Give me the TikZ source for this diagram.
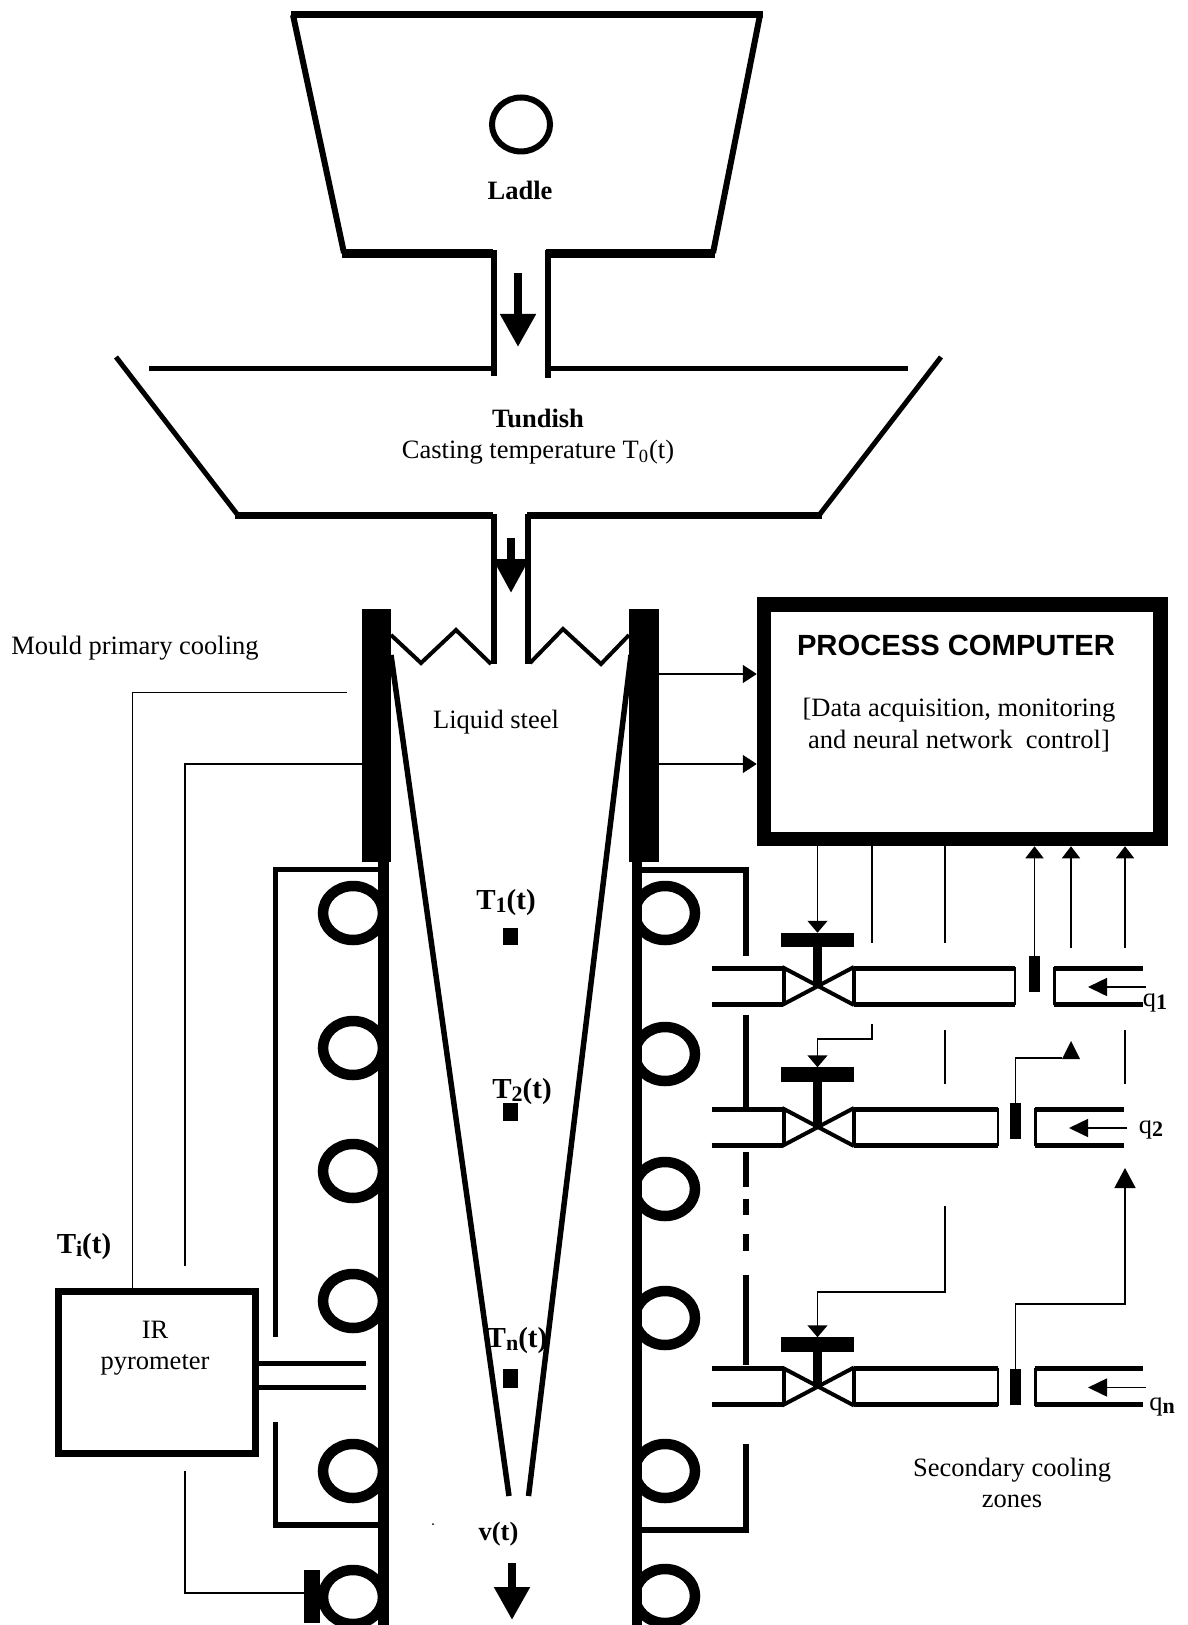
\documentclass[tikz,border=0pt]{standalone}
\usepackage{fontspec}
\setmainfont{Liberation Serif}
\newfontfamily\headfont{Liberation Sans}
\usetikzlibrary{arrows.meta}
\newcommand{\sublab}[1]{{\fontsize{11}{11}\selectfont\bfseries\raisebox{-1.5pt}{#1}}}
\tikzset{
  lab/.style={inner sep=0pt,font=\fontsize{13.25}{15.8}\selectfont,align=center},
  blab/.style={lab,font=\fontsize{13.25}{15.8}\selectfont\bfseries},
  tlab/.style={lab,font=\fontsize{14.5}{15.8}\selectfont\bfseries},
  wall/.style={line width=5pt},
  pipe/.style={line width=2.5pt},
  frame/.style={line width=3pt},
  sig/.style={line width=0.8pt},
  sigtip/.style={sig,-{Triangle[length=6pt,width=10pt]}},
  flowtip/.style={line width=4pt,-{Triangle[length=16.5pt,width=17pt]}},
  solid block/.style={fill=black,inner sep=0pt,outer sep=0pt,draw=none},
  ring/.style={line width=5.25pt}
}
\begin{document}
\begin{tikzpicture}[x=0.5pt,y=-0.5pt]
  \useasboundingbox (0,0) rectangle (1187,1625);
  % ladle
  \draw[line width=3.5pt] (291,14.5) -- (763,14.5);
  \draw[line width=3pt] (293,15) -- (344,253);
  \draw[line width=3pt] (760,15) -- (713,253);
  \draw[line width=4.25pt] (342,253.5) -- (493,253.5);
  \draw[line width=4.25pt] (546,253.5) -- (715,253.5);
  \draw[line width=3pt] (521,124.5) ellipse (29 and 27);
  \node[blab] (ladle) at (520,190) {Ladle};
  \draw[line width=2.75pt] (494,250) -- (494,376);
  \draw[line width=2.75pt] (548,250) -- (548,378);
  \coordinate (ladleout) at (518,273);
  \coordinate (ladlein) at (518,347);
  \draw[flowtip] (ladleout) -- (ladlein);
  % tundish
  \draw[line width=2.5pt] (116,357) -- (237,514);
  \draw[line width=2.5pt] (941,357) -- (820,514);
  \draw[line width=2.75pt] (149,368.5) -- (492,368.5);
  \draw[line width=2.75pt] (549,368.5) -- (908,368.5);
  \draw[line width=3.5pt] (235,515.5) -- (493,515.5);
  \draw[line width=3.5pt] (527,515.5) -- (822,515.5);
  \node[blab] (tundish) at (538,418) {Tundish};
  \node[lab] (casting) at (538,452) {Casting temperature T\textsubscript{0}(t)};
  \draw[line width=2.75pt] (494,514) -- (494,664);
  \draw[line width=2.75pt] (528,514) -- (528,664);
  \coordinate (tundout) at (511,538);
  \coordinate (tundin) at (511,593);
  \draw[line width=4pt,-{Triangle[length=17pt,width=17pt]}] (tundout) -- (tundin);
  % strand and mould
  \draw[line width=2.75pt] (391,655) -- (509,1496);
  \draw[line width=2.75pt] (631,655) -- (528.5,1496);
  \draw[line width=2pt] (391,635) -- (421,663) -- (456,630) -- (491,664);
  \draw[line width=2pt] (530,663) -- (563,629) -- (601,664) -- (629,635);
  \begin{scope}
    \clip (300,862) rectangle (380,1625);
    \foreach \y in {913,1048,1171,1301,1471,1597}
      \draw[ring] (353,\y) ellipse (30 and 27);
  \end{scope}
  \begin{scope}
    \clip (640,862) rectangle (720,1625);
    \foreach \y in {913,1054,1189,1318,1471,1596}
      \draw[ring] (665,\y) ellipse (30 and 27);
  \end{scope}
  \draw[line width=5.25pt] (383.5,862) -- (383.5,1625);
  \draw[line width=5.25pt] (637,862) -- (637,1625);
  \node[solid block,minimum width=14.5pt,minimum height=126.5pt] (mouldl) at (376.5,735.5) {};
  \node[solid block,minimum width=15pt,minimum height=126.5pt] (mouldr) at (644,735.5) {};
  \node[lab] (mouldtxt) at (135,648) {Mould primary cooling};
  \node[lab] (steel) at (496,722) {Liquid steel};
  % spray chamber frame
  \draw[wall,line width=2.75pt] (378,869.5) -- (275.5,869.5) -- (275.5,1337);
  \draw[wall,line width=2.75pt] (275.5,1422) -- (275.5,1525) -- (378,1525);
  \draw[wall,line width=3pt] (642,869.5) -- (745.5,869.5) -- (745.5,956);
  \foreach \a/\b in {1015/1107,1152/1187,1199/1215,1234/1251,1275/1365}
    \draw[frame] (745.5,\a) -- (745.5,\b);
  \draw[frame] (745.5,1444) -- (745.5,1529.5) -- (642,1529.5);
  % temperatures
  \node[tlab] (tone) at (506,903) {T\sublab{1}(t)};
  \node[solid block,minimum width=7.5pt,minimum height=8.5pt] (pone) at (510.5,936.5) {};
  \node[tlab] (ttwo) at (522,1092) {T\sublab{2}(t)};
  \node[solid block,minimum width=7.5pt,minimum height=9pt] (ptwo) at (510.5,1112) {};
  \node[tlab] (tnn) at (517,1341) {T\sublab{n}(t)};
  \node[solid block,minimum width=7.5pt,minimum height=9.5pt] (pnn) at (510.5,1378.5) {};
  \node[blab] (speed) at (498.5,1534) {v(t)};
  \coordinate (speedout) at (512,1563);
  \coordinate (speedin) at (512,1620);
  \draw[flowtip] (speedout) -- (speedin);
  \fill (433,1524) circle (0.5pt);
  % process computer
  \node[draw,line width=7.25pt,minimum width=198.25pt,minimum height=117.25pt,inner sep=0pt] (pc) at (962.25,721.75) {};
  \node[inner sep=0pt,font=\fontsize{14.6}{14.6}\selectfont\headfont\bfseries] (pctitle) at (956,645) {PROCESS COMPUTER};
  \node[lab] (pctext) at (959,725) {[Data acquisition, monitoring\\and neural network\ \ control]};
  \draw[sigtip,-{Triangle[length=7pt,width=9pt]}] (mouldr.east |- 0,674) -- (pc.west |- 0,674);
  \draw[sigtip,-{Triangle[length=7pt,width=9pt]}] (mouldr.east |- 0,764) -- (pc.west |- 0,764);
  % cooling rows
  \foreach \n/\y/\h/\e/\s/\p in {one/986/940/1015/1054/1143,two/1127/1074.5/998/1035/1124,nn/1386.5/1344.5/998/1035/1143}{
    \draw[pipe] (711.5,\y-18) -- (783,\y-18);
    \draw[pipe] (711.5,\y+18) -- (783,\y+18);
    \draw[line width=2pt] (782,\y-19) -- (854,\y+19);
    \draw[line width=2pt] (782,\y+19) -- (854,\y-19);
    \draw[line width=2.25pt] (784,\y-18) -- (784,\y+18);
    \draw[line width=2.25pt] (854,\y-18) -- (854,\y+18);
    \draw[pipe] (854,\y-18) -- (\e,\y-18);
    \draw[pipe] (854,\y+18) -- (\e,\y+18);
    \draw[line width=1pt] (\e,\y-19) -- (\e,\y+19);
    \draw[line width=1.5pt] (\s,\y-19) -- (\s,\y+19);
    \draw[pipe] (\s,\y-18) -- (\p,\y-18);
    \draw[pipe] (\s,\y+18) -- (\p,\y+18);
    \node[solid block,minimum width=36.5pt,minimum height=7.25pt] (h\n) at (817.5,\h) {};
    \draw[line width=4.5pt] (h\n.south) -- (817.5,\y+2);
    \draw[sig,-{Triangle[length=9.5pt,width=9pt]}] (\p+3,\y+1) -- (\p-55,\y+1);
  }
  \node[solid block,minimum width=5.5pt,minimum height=18pt] (sone) at (1034.5,974) {};
  \node[solid block,minimum width=5.5pt,minimum height=18pt] (stwo) at (1015.5,1121) {};
  \node[solid block,minimum width=5.5pt,minimum height=18pt] (snn) at (1015.5,1386.5) {};
  \node[lab] (qone) at (1155,1003) {q\sublab{1}};
  \node[lab] (qtwo) at (1151,1130) {q\sublab{2}};
  \node[lab] (qnn) at (1162,1407) {q\sublab{n}};
  % signals
  \draw[sigtip] (pc.south -| hone) -- (hone.north);
  \draw[sig] (pc.south -| 872,0) -- (872,943);
  \draw[sig] (pc.south -| 945,0) -- (945,943);
  \draw[sigtip,-{Triangle[length=6pt,width=9pt]}] (sone.north) -- (pc.south -| sone);
  \draw[sig,-{Triangle[length=6pt,width=9pt]}] (1071,948) -- (pc.south -| 1071,0);
  \draw[sig,-{Triangle[length=6pt,width=9pt]}] (1125,948) -- (pc.south -| 1125,0);
  \draw[sigtip] (872,1024) -- (872,1039) -| (htwo.north);
  \draw[sig] (945,1030) -- (945,1084);
  \draw[sig] (1125,1030) -- (1125,1084);
  \draw[sig] (stwo.north) |- (1062,1058);
  \fill (1062,1059) -- (1071,1041) -- (1080,1059) -- cycle;
  \draw[sigtip] (945,1206) -- (945,1292) -| (hnn.north);
  \draw[sig,-{Triangle[length=10pt,width=10.5pt]}] (snn.north) |- (1125,1304) -- (1125,1168);
  \node[lab] (zones) at (1012,1483) {Secondary cooling\\zones};
  % pyrometer
  \node[draw,line width=3.5pt,minimum width=98.5pt,minimum height=80.75pt,inner sep=0pt] (ir) at (157,1372.5) {};
  \node[lab] (irtxt) at (155,1348) {IR\\pyrometer};
  \node[tlab] (tii) at (84,1247) {T\sublab{i}(t)};
  \draw[line width=2.5pt] (ir.east |- 0,1363) -- (366,1363);
  \draw[line width=2.5pt] (ir.east |- 0,1387) -- (366,1387);
  \draw[sig] (ir.north -| 132.5,0) -- (132.5,692.5) -- (347,692.5);
  \draw[sig] (185,1266) -- (185,764) -- (mouldl.west |- 0,764);
  \node[solid block,minimum width=8pt,minimum height=26.5pt] (roll) at (312,1596.5) {};
  \draw[sig] (185,1471) -- (185,1593) -- (roll.west |- 0,1593);
\end{tikzpicture}
\end{document}
